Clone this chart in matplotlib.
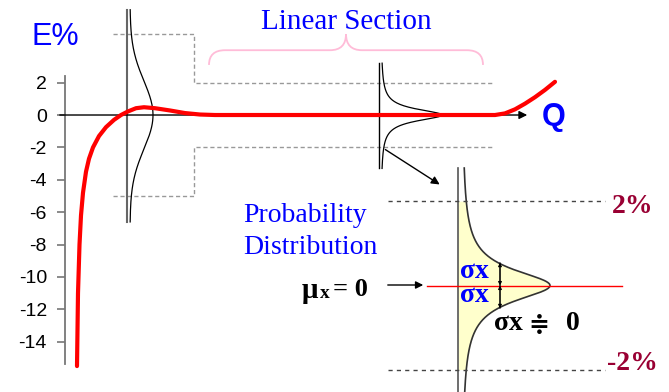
import numpy as np
import matplotlib.pyplot as plt
from matplotlib.path import Path
from matplotlib.patches import PathPatch, FancyArrowPatch

plt.rcParams['axes.unicode_minus'] = False

W, H = 669, 392

# y axis of the main chart (E%)
e_ticks = [-14, -12, -10, -8, -6, -4, -2, 0, 2]

# error curve E% vs Q
q_curve = [1.2, 1.3, 1.45, 1.6, 1.8, 2.1, 2.4, 2.8, 3.4, 4.1, 4.9, 5.6, 6.3, 7.1, 7.9,
           9.0, 10.5, 12.0, 13.5, 15.0, 43.0, 44.0, 45.0, 46.0, 47.0, 48.0, 49.0]
e_curve = [-15.5, -11.0, -8.0, -6.2, -4.8, -3.5, -2.7, -2.0, -1.3, -0.75, -0.3, 0.0, 0.22,
           0.42, 0.48, 0.42, 0.28, 0.12, 0.03, 0.0, 0.0, 0.1, 0.35, 0.7, 1.1, 1.55, 2.05]

# tolerance box (dashed)
box_q = [4.8, 12.9, 12.9, 42.8]
box_top = [5, 5, 2, 2]
box_bot = [-5, -5, -2, -2]

# distributions: position on Q, spread in E%
wide_q, wide_sigma, wide_amp = 6.2, 2.1, 2.3
narrow_q, narrow_g, narrow_amp = 31.4, 0.44, 6.1

# zoomed distribution (inset, E% on y)
inset_lim = 2
inset_g, inset_amp = 0.45, 88
sigma_x = 0.54


def px(x, y):
    return x / W, 1 - y / H


fig = plt.figure(figsize=(W / 100, H / 100), dpi=100)
ax = fig.add_axes([0, 0, 1, 1])
ax.set_xlim(-6.5, 60.4)
ax.set_ylim(-17.10, 7.10)
for s in ['top', 'right', 'bottom']:
    ax.spines[s].set_visible(False)
ax.spines['left'].set_position(('data', 0))
ax.spines['left'].set_bounds(-15.4, 2.4)
ax.spines['left'].set_color('#777777')
ax.spines['left'].set_linewidth(1.3)
ax.set_xticks([])
ax.set_yticks(e_ticks)
ax.set_yticklabels([str(t) for t in e_ticks], family='Liberation Sans')
ax.tick_params(axis='y', direction='out', length=6, width=1.2, color='#777777',
               pad=7, labelsize=14)

# Q axis
ax.annotate('', xy=(46.5, 0), xytext=(-0.8, 0),
            arrowprops=dict(arrowstyle='-|>', color='black', lw=1, mutation_scale=12))

# dashed tolerance box
ax.plot(box_q, box_top, color='#999999', lw=1, dashes=(3, 2))
ax.plot(box_q, box_bot, color='#999999', lw=1, dashes=(3, 2))

# wide distribution at low Q
ew = np.linspace(-6.6, 6.5, 200)
ax.plot([wide_q, wide_q], [-6.6, 6.5], color='#666666', lw=1.5)
ax.plot(wide_q + 0.3 + wide_amp * np.exp(-ew ** 2 / (2 * wide_sigma ** 2)), ew,
        color='black', lw=0.9)

# narrow distribution in the linear section
en = np.linspace(-3.3, 3.2, 300)
ax.plot([narrow_q, narrow_q], [-3.3, 3.2], color='black', lw=1)
ax.plot(narrow_q + 0.2 + narrow_amp / (1 + (en / narrow_g) ** 2), en, color='black', lw=0.9)

# red error curve
ax.plot(q_curve, e_curve, color='#ff0000', lw=3, solid_capstyle='round', zorder=5)

# brace over linear section
verts = [(14.4, 3.09), (14.4, 4.0), (16.0, 4.0), (26.5, 4.0), (28.1, 4.0), (28.1, 5.0),
         (28.1, 4.0), (29.7, 4.0), (40.2, 4.0), (41.8, 4.0), (41.8, 3.09)]
codes = [Path.MOVETO, Path.CURVE3, Path.CURVE3, Path.LINETO, Path.CURVE3, Path.CURVE3,
         Path.CURVE3, Path.CURVE3, Path.LINETO, Path.CURVE3, Path.CURVE3]
ax.add_patch(PathPatch(Path(verts, codes), fill=False, edgecolor='#ffbcd8', lw=1.3))

# arrow to zoomed view
ax.annotate('', xy=(37.7, -4.38), xytext=(31.8, -2.04),
            arrowprops=dict(arrowstyle='-|>', color='black', lw=1, mutation_scale=12))

# inset: zoomed distribution
ins = fig.add_axes([380 / W, 0, (W - 380) / W, (H - 160) / H])
ins.set_xlim(-80, 209)
ins.set_ylim(-2.52, 2.97)
ins.axis('off')
ins.patch.set_alpha(0)
ey = np.linspace(-2.52, 2.78, 400)
dens = 2 + inset_amp / (1 + (ey / inset_g) ** 2)
inside = np.abs(ey) <= inset_lim
ins.fill_betweenx(ey[inside], -2, dens[inside], color='#ffffcc', lw=0)
ins.plot([-2, -2], [-2.52, 2.78], color='#555555', lw=1.2)
ins.plot(dens, ey, color='#333333', lw=1.2)
for lim in [inset_lim, -inset_lim]:
    ins.plot([-72, 145], [lim, lim], color='#444444', lw=1, dashes=(3, 3))
ins.plot([-33, 162], [0, 0], color='#ff0000', lw=1)
for s in [sigma_x, -sigma_x]:
    ins.annotate('', xy=(40, s), xytext=(40, 0),
                 arrowprops=dict(arrowstyle='-|>', color='black', lw=0.8,
                                 mutation_scale=5, shrinkA=0, shrinkB=0))
    ins.annotate('', xy=(40, 0), xytext=(40, s),
                 arrowprops=dict(arrowstyle='-|>', color='black', lw=0.8,
                                 mutation_scale=5, shrinkA=0, shrinkB=0))

# mu arrow
fig.add_artist(FancyArrowPatch(px(385, 285), px(426, 285), transform=fig.transFigure,
                               arrowstyle='-|>', mutation_scale=11, color='black', lw=1))

# texts
blue = '#0000ff'
sans = 'Liberation Sans'
serif = ['Liberation Serif', 'DejaVu Serif']
fig.text(*px(32, 37), 'E%', color=blue, fontsize=22, family=sans, va='center')
fig.text(*px(542, 117), 'Q', color=blue, fontsize=22, family=sans, va='center',
         fontweight='bold')
fig.text(*px(346, 22), 'Linear Section', color=blue, fontsize=21, family=serif,
         ha='center', va='center')
fig.text(*px(243, 215), 'Probability', color=blue, fontsize=20, family=serif, va='center')
fig.text(*px(243, 248), 'Distribution', color=blue, fontsize=20, family=serif, va='center')

fig.text(*px(302, 290), 'μ', fontsize=21, family=serif, fontweight='bold', va='center')
fig.text(*px(320, 293), 'x', fontsize=14, family=serif, fontweight='bold', va='center')
fig.text(*px(333, 290), '= 0', fontsize=19, family=serif, fontweight='bold', va='center')

fig.text(*px(460, 272), 'σx', color=blue, fontsize=20, family=serif, fontweight='bold',
         va='center')
fig.text(*px(460, 296), 'σx', color=blue, fontsize=20, family=serif, fontweight='bold',
         va='center')

fig.text(*px(494, 324), 'σx', fontsize=20, family=serif, fontweight='bold', va='center')
fig.text(*px(528, 325), '≑', fontsize=18, family=serif, fontweight='bold', va='center')
fig.text(*px(566, 324), '0', fontsize=20, family=serif, fontweight='bold', va='center')

red_txt = '#990033'
fig.text(*px(612, 207), '2%', color=red_txt, fontsize=20, family=serif, fontweight='bold',
         va='center')
fig.text(*px(607, 363), '-2%', color=red_txt, fontsize=20, family=serif, fontweight='bold',
         va='center')

fig.savefig('out.png', dpi=100)
